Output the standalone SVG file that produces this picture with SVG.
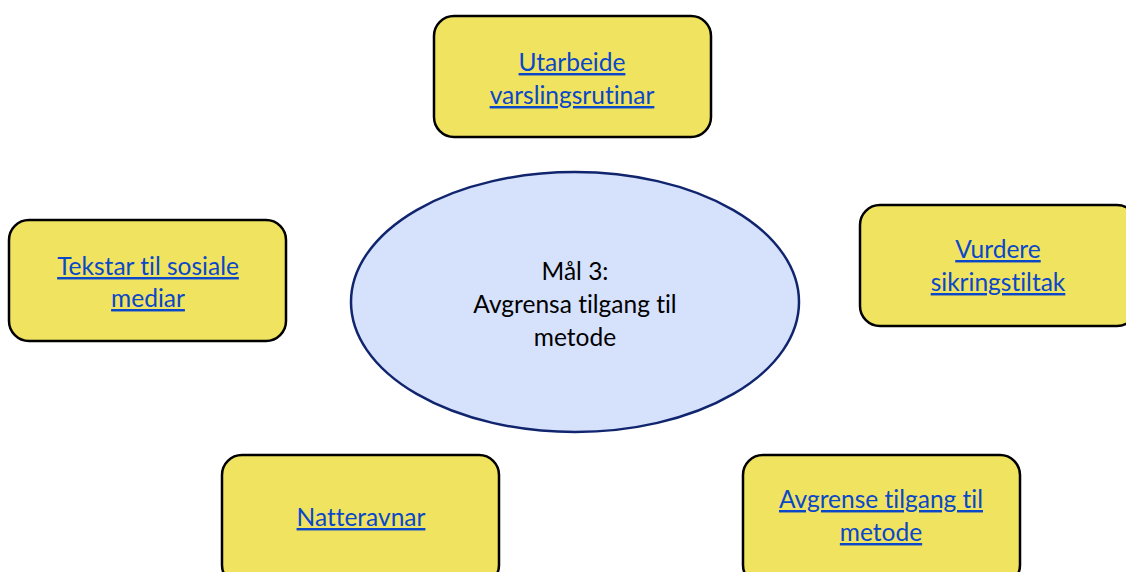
<svg xmlns="http://www.w3.org/2000/svg" width="1126" height="572" viewBox="0 0 1126 572">
  <style>
    .box { fill: #f0e35f; stroke: #000; stroke-width: 2.5; }
    .goal { fill: #d6e1fc; stroke: #10256e; stroke-width: 2.5; }
    .link { font-family: Lato, "Liberation Sans", sans-serif; font-size: 24.5px; fill: #0a47c9; text-anchor: middle; text-decoration: underline; font-variant-ligatures: none; }
    .label { font-family: Lato, "Liberation Sans", sans-serif; font-size: 24.5px; fill: #000; text-anchor: middle; font-variant-ligatures: none; }
  </style>
  <rect width="1126" height="572" fill="#fff"/>
  <g id="connectors"></g>
  <g id="goal">
    <ellipse class="goal" cx="575" cy="302" rx="224" ry="130"/>
    <text class="label" x="575" y="280">Mål 3:</text>
    <text class="label" x="575" y="313">Avgrensa tilgang til</text>
    <text class="label" x="575" y="346">metode</text>
  </g>
  <g id="node-varsling">
    <rect class="box" x="434" y="16" width="277" height="121" rx="20"/>
    <text class="link" x="572" y="71">Utarbeide</text>
    <text class="link" x="572" y="104">varslingsrutinar</text>
  </g>
  <g id="node-sikring">
    <rect class="box" x="860" y="205" width="277" height="121" rx="20"/>
    <text class="link" x="998" y="258">Vurdere</text>
    <text class="link" x="998" y="291">sikringstiltak</text>
  </g>
  <g id="node-sosiale">
    <rect class="box" x="9" y="220" width="277" height="121" rx="20"/>
    <text class="link" x="148" y="275">Tekstar til sosiale</text>
    <text class="link" x="148" y="307">mediar</text>
  </g>
  <g id="node-natteravnar">
    <rect class="box" x="222" y="455" width="277" height="130" rx="20"/>
    <text class="link" x="361" y="526">Natteravnar</text>
  </g>
  <g id="node-avgrense">
    <rect class="box" x="743" y="455" width="277" height="130" rx="20"/>
    <text class="link" x="881" y="508">Avgrense tilgang til</text>
    <text class="link" x="881" y="541">metode</text>
  </g>
</svg>
